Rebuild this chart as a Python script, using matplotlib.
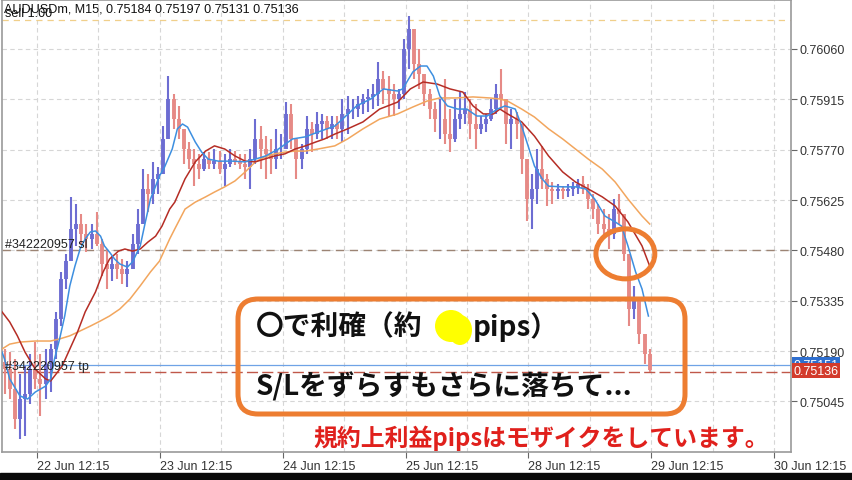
import numpy as np
import matplotlib.pyplot as plt
from matplotlib.patches import Ellipse, FancyBboxPatch, Rectangle

plt.rcParams['font.family'] = ['Liberation Sans', 'DejaVu Sans']
JP = ['Noto Sans CJK JP', 'DejaVu Sans']

# candles (each = 4 bars of M15), prices in points (1e-5)
first_open = 75160
highs = [75196, 75187, 75167, 75124, 75147, 75182, 75216, 75182, 75196, 75210,
         75303, 75418, 75470, 75634, 75614, 75585, 75556, 75556, 75591, 75513,
         75484, 75464, 75470, 75455, 75449, 75527, 75599, 75714, 75700, 75735,
         75720, 75838, 75982, 75930, 75896, 75801, 75792, 75772, 75758, 75763,
         75763, 75772, 75766, 75758, 75772, 75766, 75758, 75758, 75772, 75858,
         75838, 75809, 75801, 75830, 75815, 75907, 75902, 75801, 75786, 75867,
         75850, 75879, 75873, 75867, 75867, 75867, 75916, 75925, 75916, 75925,
         75930, 75945, 75959, 76023, 75997, 75982, 75959, 75945, 76089, 76155,
         76103, 76060, 75982, 75945, 75907, 75916, 75974, 75887, 75916, 75936,
         75936, 75916, 75902, 75867, 75873, 75916, 75959, 76002, 75907, 75887,
         75879, 75830, 75743, 75700, 75772, 75781, 75700, 75677, 75671, 75665,
         75671, 75677, 75686, 75694, 75671, 75642, 75614, 75599, 75585, 75628,
         75642, 75570, 75455, 75377, 75340, 75239, 75196]
lows = [75066, 75052, 74966, 74937, 74945, 75038, 75081, 75003, 75052, 75072,
        75167, 75262, 75369, 75455, 75493, 75498, 75475, 75484, 75493, 75406,
        75369, 75392, 75398, 75383, 75375, 75435, 75470, 75556, 75591, 75614,
        75642, 75729, 75844, 75830, 75801, 75729, 75714, 75665, 75686, 75709,
        75714, 75714, 75700, 75665, 75720, 75726, 75714, 75686, 75657, 75729,
        75714, 75686, 75700, 75714, 75743, 75801, 75772, 75686, 75714, 75758,
        75763, 75801, 75801, 75801, 75801, 75801, 75792, 75815, 75858, 75864,
        75873, 75879, 75887, 75896, 75902, 75867, 75867, 75887, 75916, 76002,
        75974, 75945, 75896, 75858, 75821, 75801, 75786, 75763, 75792, 75830,
        75844, 75801, 75772, 75815, 75821, 75853, 75873, 75887, 75786, 75772,
        75801, 75700, 75565, 75542, 75614, 75657, 75608, 75614, 75628, 75628,
        75634, 75637, 75642, 75642, 75599, 75570, 75527, 75513, 75484, 75513,
        75556, 75449, 75262, 75282, 75210, 75153, 75130]
closes = [75138, 75081, 74994, 75052, 75066, 75138, 75110, 75095, 75153, 75196,
          75282, 75398, 75449, 75542, 75556, 75527, 75513, 75527, 75498, 75441,
          75426, 75441, 75426, 75412, 75426, 75498, 75556, 75657, 75642, 75686,
          75700, 75801, 75916, 75858, 75830, 75772, 75743, 75729, 75714, 75743,
          75729, 75737, 75714, 75729, 75743, 75737, 75729, 75720, 75743, 75801,
          75772, 75758, 75743, 75772, 75772, 75873, 75801, 75743, 75772, 75830,
          75815, 75844, 75853, 75830, 75844, 75830, 75873, 75887, 75887, 75902,
          75916, 75922, 75930, 75974, 75945, 75930, 75916, 75930, 76060, 76118,
          76017, 75988, 75930, 75887, 75858, 75858, 75815, 75801, 75858, 75873,
          75887, 75844, 75830, 75844, 75858, 75887, 75930, 75916, 75844, 75858,
          75844, 75743, 75628, 75657, 75714, 75686, 75657, 75651, 75657, 75651,
          75657, 75663, 75671, 75657, 75628, 75599, 75556, 75542, 75527, 75599,
          75585, 75470, 75311, 75340, 75239, 75182, 75136]

# moving averages (bar number, points)
blue_bar = [0, 2, 6, 14, 20, 26, 34, 38, 41, 45, 49, 53, 57, 61, 65, 69, 73, 77, 80, 84,
            88, 92, 98, 102, 108, 112, 116, 120, 123, 127, 133, 137, 141, 145, 151, 156,
            161, 169, 180, 190, 198, 206, 216, 227, 237, 247, 260, 266, 277, 288, 298,
            309, 313, 321, 327, 332, 337, 342, 348, 356, 363, 371, 379, 387, 393, 401,
            406, 411, 416, 422, 427, 438, 448, 456, 463, 471, 479, 484, 489, 495, 500, 505]
blue_val = [75187, 75167, 75110, 75061, 75052, 75072, 75089, 75110, 75167, 75225,
            75291, 75378, 75435, 75484, 75513, 75533, 75536, 75521, 75493, 75475,
            75455, 75441, 75432, 75447, 75493, 75562, 75628, 75665, 75694, 75720,
            75772, 75830, 75844, 75835, 75792, 75763, 75743, 75737, 75737, 75735,
            75743, 75752, 75772, 75801, 75807, 75821, 75838, 75858, 75896, 75916,
            75945, 75939, 75945, 75994, 76011, 76011, 75982, 75925, 75896, 75887,
            75887, 75867, 75867, 75887, 75896, 75887, 75838, 75781, 75723, 75686,
            75665, 75663, 75663, 75657, 75628, 75579, 75562, 75550, 75493, 75418,
            75369, 75291]
red_bar = [0, 6, 12, 18, 26, 34, 38, 41, 47, 53, 59, 65, 73, 79, 84, 91, 96, 102, 108,
           114, 120, 125, 131, 135, 143, 151, 159, 166, 174, 182, 190, 198, 205, 213,
           221, 229, 237, 245, 252, 260, 270, 282, 295, 309, 319, 329, 340, 350, 360,
           368, 376, 384, 389, 395, 406, 416, 427, 438, 448, 458, 469, 479, 489, 500, 506]
red_val = [75303, 75274, 75234, 75187, 75138, 75110, 75104, 75118, 75147, 75196,
           75245, 75303, 75360, 75418, 75455, 75478, 75484, 75478, 75484, 75504,
           75521, 75550, 75599, 75619, 75686, 75735, 75766, 75781, 75772, 75752,
           75737, 75735, 75743, 75752, 75758, 75772, 75781, 75792, 75801, 75815,
           75830, 75850, 75887, 75907, 75945, 75965, 75959, 75945, 75936, 75896,
           75873, 75873, 75887, 75873, 75850, 75809, 75752, 75706, 75677, 75657,
           75634, 75608, 75562, 75493, 75435]
orange_bar = [0, 6, 14, 26, 38, 45, 53, 61, 69, 77, 84, 92, 100, 108, 116, 123, 131,
              135, 143, 151, 159, 166, 174, 182, 190, 198, 205, 213, 221, 229, 237, 247,
              260, 270, 282, 295, 309, 321, 332, 342, 355, 368, 381, 389, 395, 406, 416,
              427, 438, 448, 458, 469, 479, 489, 500, 506]
orange_val = [75196, 75210, 75216, 75219, 75219, 75225, 75234, 75248, 75262, 75277,
              75291, 75311, 75340, 75378, 75418, 75449, 75513, 75542, 75599, 75619,
              75634, 75648, 75663, 75680, 75706, 75735, 75749, 75758, 75763, 75766,
              75766, 75772, 75781, 75801, 75830, 75858, 75873, 75893, 75910, 75919,
              75919, 75922, 75919, 75916, 75910, 75887, 75864, 75830, 75801, 75772,
              75743, 75714, 75677, 75628, 75579, 75556]

# order / price levels
sell_price = 0.76144
sl_price = 0.75480
tp_price = 0.75131
ask_price = 0.75151
last_price = 0.75136

yticks = [0.76060, 0.75915, 0.75770, 0.75625, 0.75480, 0.75335, 0.75190, 0.75045]
xtick_labels = ['22 Jun 12:15', '23 Jun 12:15', '24 Jun 12:15', '25 Jun 12:15',
                '28 Jun 12:15', '29 Jun 12:15', '30 Jun 12:15']
first_tick_bar = 27.3
bars_per_day = 96

W, H = 852, 481
fig = plt.figure(figsize=(W / 100, H / 100), dpi=100)
ax = fig.add_axes([2 / W, 28 / H, 789 / W, 452 / H])

o = np.array([first_open] + closes[:-1]) * 1e-5
c = np.array(closes) * 1e-5
hi = np.maximum(np.array(highs) * 1e-5, np.maximum(o, c))
lo = np.minimum(np.array(lows) * 1e-5, np.minimum(o, c))
x = np.arange(len(c)) * 4 + 2
col = np.where(c >= o, '#6d6dd2', '#e68a86')
ax.vlines(x, lo, hi, colors=col, lw=1.5, zorder=3)
ax.vlines(x, np.minimum(o, c), np.maximum(o, c), colors=col, lw=2.8, zorder=3)

ax.plot(orange_bar, np.array(orange_val) * 1e-5, color='#f2a65e', lw=1.1, zorder=4)
ax.plot(red_bar, np.array(red_val) * 1e-5, color='#b52d25', lw=1.1, zorder=4)
ax.plot(blue_bar, np.array(blue_val) * 1e-5, color='#3d8fe0', lw=1.1, zorder=5)

ax.axhline(sell_price, color='#f0cf8a', lw=0.9, ls=(0, (5, 4)), zorder=2)
ax.axhline(sl_price, color='#9c8474', lw=1.0, ls=(0, (6, 4)), zorder=2)
ax.axhline(ask_price, color='#6fa3e6', lw=0.9, zorder=2)
ax.axhline(tp_price, color='#c0584a', lw=1.0, ls=(0, (8, 3)), zorder=2)

ax.set_xlim(0, 616.4)
ax.set_ylim(0.748994, 0.762011)

xt = first_tick_bar + bars_per_day * np.arange(len(xtick_labels))
ax.set_xticks(xt)
ax.set_xticklabels(xtick_labels, ha='left', fontsize=9, color='#333333',
                   family=['Liberation Sans Narrow', 'Liberation Sans'])
ax.set_xticks(xt[:-1] + bars_per_day / 2, minor=True)
ax.set_yticks(yticks)
ax.set_yticklabels(['%.5f' % v for v in yticks], fontsize=9, color='#333333')
ax.yaxis.tick_right()
ax.tick_params(axis='both', which='major', length=4, width=0.8, color='#666666', pad=2)
ax.tick_params(axis='x', which='minor', length=0)
ax.grid(True, which='both', color='#d6d6d6', lw=0.8, ls=(0, (4, 3)), zorder=1)
ax.grid(False, which='minor', axis='y')
for s in ax.spines.values():
    s.set_color('#9a9a9a')
    s.set_linewidth(1.2)

# order labels
ax.text(0.004, sl_price, '#342220957 sl', transform=ax.get_yaxis_transform(),
        fontsize=9, color='#222222', va='bottom', zorder=6)
ax.text(0.004, tp_price, '#342220957 tp', transform=ax.get_yaxis_transform(),
        fontsize=9, color='#222222', va='bottom', zorder=6)
ax.text(1.003, ask_price, '%.5f' % ask_price, transform=ax.get_yaxis_transform(),
        fontsize=9, color='white', va='center', ha='left', clip_on=False, zorder=6,
        bbox=dict(fc='#2f6fcf', ec='none', pad=1.2))
ax.text(1.003, last_price - 0.00002, '%.5f' % last_price, transform=ax.get_yaxis_transform(),
        fontsize=9, color='white', va='center', ha='left', clip_on=False, zorder=7,
        bbox=dict(fc='#d33b2c', ec='none', pad=1.2))
ax.text(0.002, 0.995, 'AUDUSDm, M15, 0.75184 0.75197 0.75131 0.75136',
        transform=ax.transAxes, fontsize=9.1, color='#111111', va='top', zorder=6)
ax.text(0.004, 0.984, 'sell 1.00', transform=ax.transAxes, fontsize=9.1,
        color='#111111', va='top', zorder=6)

# highlight circle
ax.add_patch(Ellipse((487, 0.75470), 46, 0.00144, fill=False, ec='#ed7d31', lw=3.6, zorder=8))

# annotation overlay in pixel units
ov = fig.add_axes([0, 0, 1, 1], zorder=10)
ov.set_xlim(0, W)
ov.set_ylim(H, 0)
ov.axis('off')
ov.patch.set_alpha(0)
ov.add_patch(FancyBboxPatch((238, 300), 447, 115, boxstyle='round,pad=0,rounding_size=20',
                            fill=False, ec='#ed7d31', lw=3.6))
ov.add_patch(Ellipse((451, 327), 32, 32, color='#ffff00', ec='none'))
ov.add_patch(Ellipse((460, 331), 24, 30, color='#ffff00', ec='none'))
ov.text(256, 327, '〇で利確（約', fontsize=20, weight='bold', family=JP, va='center', color='#111111')
ov.text(473, 327, 'pips）', fontsize=20, weight='bold', family=JP, va='center', color='#111111')
ov.text(256, 387, 'S/Lをずらすもさらに落ちて...', fontsize=20, weight='bold', family=JP,
        va='center', color='#111111')
ov.text(313, 438, '規約上利益pipsはモザイクをしています。', fontsize=17.2, weight='bold',
        family=JP, va='center', color='#e0201c')
ov.add_patch(Rectangle((0, 474), W, 7, color='#0a0a0a'))

fig.savefig('out.png', dpi=100)
